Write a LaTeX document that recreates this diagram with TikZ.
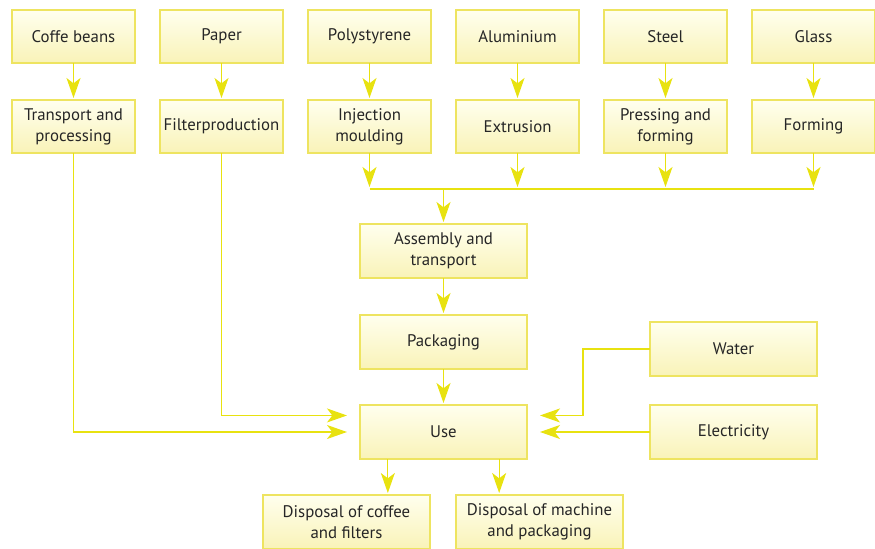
\documentclass[tikz,border=0pt]{standalone}
\usepackage{fontspec}
\setmainfont{PT Sans}
\usetikzlibrary{arrows.meta,positioning,calc}
\definecolor{boxline}{RGB}{238,228,96}
\definecolor{boxtop}{RGB}{255,255,238}
\definecolor{boxbottom}{RGB}{249,243,184}
\definecolor{pilcol}{RGB}{232,226,16}
\tikzset{
    %Define standard arrow tip
    >={Stealth[length=15pt,width=10.5pt,inset=4pt]},
    %Define style for boxes
    kasse/.style={
           rectangle,
           draw=boxline, line width=0.9pt,
           top color=boxtop, bottom color=boxbottom,
           minimum width=92.25pt,
           minimum height=39.75pt,
           inner sep=2pt, outer sep=0pt,
           align=center,
           text=black!85,
           font=\fontsize{12.6}{15.75}\selectfont},
    % wide boxes
    bred/.style={
           kasse,
           minimum width=125.25pt,
           minimum height=40.5pt},
    % Define arrow style
    pil/.style={
           ->,
           draw=pilcol,
           line width=0.9pt,
           shorten >=1.5pt},
    linje/.style={
           draw=pilcol,
           line width=0.9pt}
}
\begin{document}
\begin{tikzpicture}[node distance=18.75pt]
		\useasboundingbox (0,0) rectangle (656.25pt,-411.75pt);
		% raw materials
		\node[kasse] (coffee) at (55.125pt,-27.375pt) {Coffe beans};
		\node[kasse, right=of coffee] (paper) {Paper};
		\node[kasse, right=of paper] (poly) {Polystyrene};
		\node[kasse, right=of poly] (alu) {Aluminium};
		\node[kasse, right=of alu] (steel) {Steel};
		\node[kasse, right=of steel] (glass) {Glass};
		% processing
		\node[kasse, below=27.75pt of coffee] (transport) {Transport and\\processing};
		\node[kasse, below=27.75pt of paper] (filter) {Filterproduction};
		\node[kasse, below=27.75pt of poly] (injection) {Injection\\moulding};
		\node[kasse, below=27.75pt of alu] (extrusion) {Extrusion};
		\node[kasse, below=27.75pt of steel] (pressing) {Pressing and\\forming};
		\node[kasse, below=27.75pt of glass] (forming) {Forming};
		\coordinate (bus) at ($(injection.south)!0.5!(extrusion.south)+(0,-27pt)$);
		% assembly, use and disposal
		\node[bred, below=26.25pt of bus] (assembly) {Assembly and\\transport};
		\node[bred, below=27.75pt of assembly] (packaging) {Packaging};
		\node[bred, below=27pt of packaging] (use) {Use};
		\node[bred, right=92.25pt of use] (electricity) {Electricity};
		\node[bred, above=21.75pt of electricity] (water) {Water};
		\node[bred, below=27pt of use, xshift=-72.75pt] (dispcoffee) {Disposal of coffee\\and filters};
		\node[bred, right=19.5pt of dispcoffee] (dispmachine) {Disposal of machine\\and packaging};
		% arrows
		\foreach \a/\b in {coffee/transport, paper/filter, poly/injection, alu/extrusion, steel/pressing, glass/forming, assembly/packaging, packaging/use}
			\draw[pil] (\a.south) -- (\b.north);
		\foreach \a in {injection, extrusion, pressing, forming}
			\draw[pil] (\a.south) -- (\a.south |- bus);
		\draw[linje] (injection.south |- bus) -- (forming.south |- bus);
		\draw[pil] (bus) -- (assembly.north);
		\draw[pil, shorten >=9.75pt] (transport.south) |- (use.west);
		\draw[pil, shorten >=9.75pt] (filter.south) |- ([yshift=12.4pt]use.west);
		\draw[pil, shorten >=9.75pt] (water.west) -| ($(use.east)+(42pt,12.4pt)$) -- ([yshift=12.4pt]use.east);
		\draw[pil, shorten >=9.75pt] (electricity.west) -- (use.east);
		\draw[pil] ([xshift=-41.75pt]use.south) -- ([xshift=-41.75pt]use.south |- dispcoffee.north);
		\draw[pil] ([xshift=41.75pt]use.south) -- ([xshift=41.75pt]use.south |- dispmachine.north);
	\end{tikzpicture}
\end{document}
